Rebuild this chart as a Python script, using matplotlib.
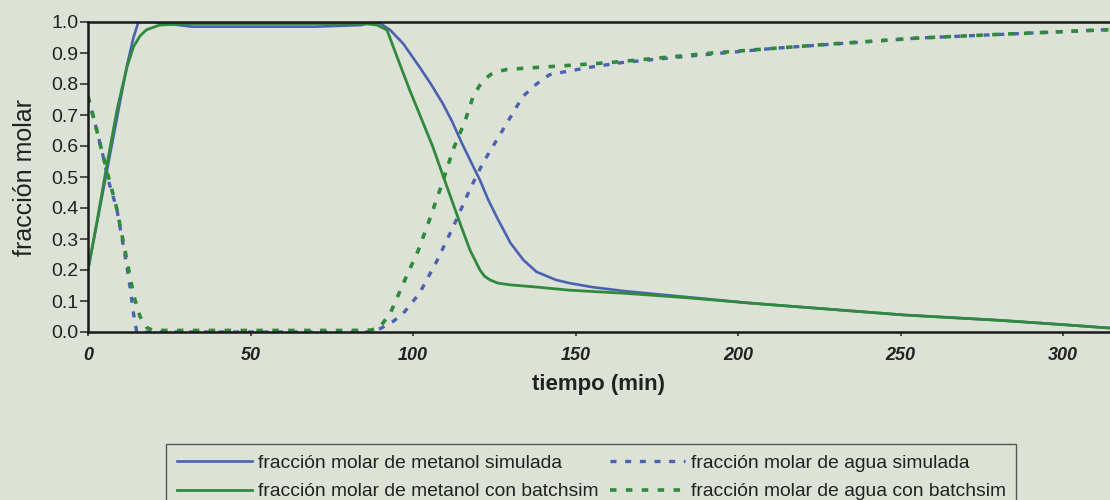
import matplotlib
matplotlib.use("Agg")
from matplotlib import pyplot as plt

# fracción molar de metanol simulada
t_met_sim = [0, 2, 4, 6, 8, 10, 12, 14, 15.5, 20, 28, 32, 50, 70, 84, 88, 90, 93,
             97, 102, 105.5, 109, 112, 115, 118, 120.6, 123, 125.8, 130, 134,
             138, 144, 148, 155, 165, 180, 204, 230, 251, 280, 301, 314]
x_met_sim = [0.20, 0.31, 0.42, 0.53, 0.64, 0.75, 0.86, 0.95, 1.0, 1.0, 0.99, 0.985,
             0.985, 0.985, 0.99, 1.0, 0.995, 0.974, 0.93, 0.855, 0.80, 0.74, 0.68,
             0.61, 0.545, 0.49, 0.43, 0.37, 0.287, 0.232, 0.194, 0.168, 0.158,
             0.145, 0.132, 0.117, 0.093, 0.072, 0.055, 0.038, 0.023, 0.013]

# fracción molar de metanol con batchsim
t_met_bs = [0, 3, 6, 9, 12, 14, 16, 18, 22, 30, 50, 70, 85, 89, 92, 95, 99, 102.5,
            106, 110.4, 114.5, 117.5, 120.6, 122, 123.7, 126, 130, 138, 148, 165,
            185, 204, 230, 251, 280, 301, 314]
x_met_bs = [0.20, 0.37, 0.55, 0.72, 0.855, 0.92, 0.955, 0.975, 0.99, 0.995, 0.995,
            0.995, 0.995, 0.99, 0.974, 0.89, 0.78, 0.69, 0.60, 0.47, 0.35, 0.265,
            0.20, 0.18, 0.168, 0.158, 0.152, 0.145, 0.135, 0.125, 0.11, 0.093,
            0.072, 0.055, 0.038, 0.023, 0.013]

# fracción molar de agua simulada
t_agua_sim = [0, 2, 4.7, 6.5, 8.8, 10.5, 12, 13, 14, 15, 20, 40, 60, 80, 88, 90.8,
              94, 97, 102, 107.4, 112.4, 117.5, 121.5, 125.8, 129.8, 133.8, 138,
              142, 147, 155, 165, 180, 211, 255, 311, 314]
x_agua_sim = [0.76, 0.68, 0.565, 0.48, 0.40, 0.30, 0.21, 0.14, 0.06, 0.0, 0.0,
              0.0, 0.0, 0.0, 0.0, 0.016, 0.035, 0.06, 0.125, 0.23, 0.34, 0.46,
              0.545, 0.62, 0.69, 0.76, 0.80, 0.83, 0.84, 0.855, 0.87, 0.885,
              0.915, 0.948, 0.974, 0.975]

# fracción molar de agua con batchsim
t_agua_bs = [0, 2, 4.7, 8.8, 12, 14, 16, 18, 20, 40, 60, 80, 87, 89.8, 93, 95.5, 98,
             101.5, 105, 109, 112.4, 116, 118.5, 120.5, 122, 123.8, 125.8, 129,
             133, 148, 161.5, 192, 211, 230, 255, 280, 311, 314]
x_agua_bs = [0.76, 0.68, 0.565, 0.40, 0.23, 0.12, 0.05, 0.015, 0.005, 0.005, 0.005,
             0.005, 0.006, 0.016, 0.06, 0.12, 0.18, 0.26, 0.36, 0.48, 0.59, 0.68,
             0.76, 0.795, 0.815, 0.83, 0.84, 0.847, 0.85, 0.86, 0.87, 0.90, 0.915,
             0.93, 0.948, 0.96, 0.974, 0.975]

x_ticks = [0, 50, 100, 150, 200, 250, 300]
y_ticks = [0.0, 0.1, 0.2, 0.3, 0.4, 0.5, 0.6, 0.7, 0.8, 0.9, 1.0]

bg = '#dde2d6'
azul = '#4b62b0'
verde = '#2f8a3c'
txt = '#222222'

plt.rcParams['font.family'] = ['Liberation Sans', 'DejaVu Sans']

fig = plt.figure(figsize=(11.1, 5.0), dpi=100, facecolor=bg)
ax = fig.add_axes([88 / 1110, 168 / 500, 1 - 88 / 1110, 310 / 500])
ax.set_facecolor(bg)

punteado = (0, (1.8, 2.6))
l1, = ax.plot(t_met_sim, x_met_sim, color=azul, lw=1.9)
l3, = ax.plot(t_agua_sim, x_agua_sim, color=azul, lw=2.4, ls=punteado)
l4, = ax.plot(t_agua_bs, x_agua_bs, color=verde, lw=2.6, ls=punteado)
l2, = ax.plot(t_met_bs, x_met_bs, color=verde, lw=2.0)

ax.set_xlim(0, (1110 - 88) / 3.25)
ax.set_ylim(0, 1.0)
ax.set_xticks(x_ticks)
ax.set_yticks(y_ticks)
ax.set_yticklabels(['%.1f' % v for v in y_ticks], fontsize=14, color=txt)
ax.set_xticklabels([str(v) for v in x_ticks], fontsize=13, fontweight='bold',
                   fontstyle='italic', color=txt)
ax.tick_params(axis='y', direction='out', length=6, width=1.2, pad=1, color='#333333')
ax.tick_params(axis='x', direction='out', length=3, width=1.2, pad=8, color='#333333')

for s in ['left', 'bottom', 'top']:
    ax.spines[s].set_linewidth(1.8)
    ax.spines[s].set_color('#1a1a1a')
ax.spines['right'].set_visible(False)

ax.set_xlabel('tiempo (min)', fontsize=16, fontweight='bold', color=txt, labelpad=7)
ax.set_ylabel('fracción molar', fontsize=18, color=txt, labelpad=10)

leg = fig.legend([l1, l2, l3, l4],
                 ['fracción molar de metanol simulada',
                  'fracción molar de metanol con batchsim',
                  'fracción molar de agua simulada',
                  'fracción molar de agua con batchsim'],
                 loc='upper left', bbox_to_anchor=(166 / 1110, 1 - 444 / 500),
                 ncol=2, fontsize=13.9, frameon=True, fancybox=False,
                 handlelength=3.9, handletextpad=0.3, columnspacing=0.6,
                 labelspacing=0.55, borderpad=0.55, borderaxespad=0)
leg.get_frame().set_facecolor(bg)
leg.get_frame().set_edgecolor('#333333')
leg.get_frame().set_linewidth(1.0)
for t in leg.get_texts():
    t.set_color(txt)

fig.savefig('out.png', dpi=100, facecolor=bg)
